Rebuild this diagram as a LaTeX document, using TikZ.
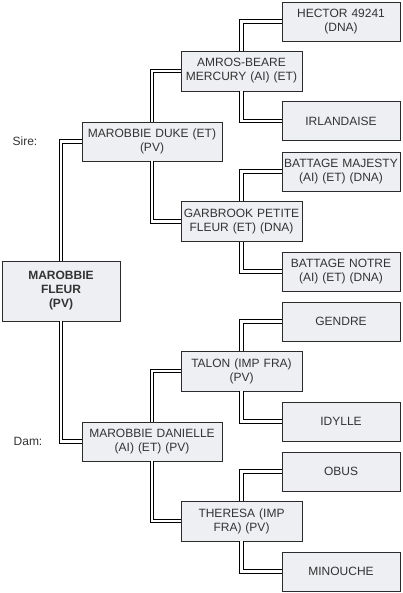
\documentclass[tikz,border=0pt]{standalone}
\usepackage{fontspec}
\setmainfont{Liberation Sans}
\usepackage{xcolor}
\usepackage{tikz}

\definecolor{boxfill}{HTML}{EEEFF3}
\definecolor{boxline}{HTML}{2B2B2B}
\definecolor{boxtext}{HTML}{333333}

\begin{document}
\begin{tikzpicture}[
    x=1pt, y=-1pt,
    rootbox/.style = {
        draw=boxline, fill=boxfill, line width=0.8pt,
        text width=114pt, minimum height=60pt,
        align=center, inner sep=2pt, text=boxtext,
        font=\fontsize{12}{14}\selectfont\bfseries
    },
    sirebox/.style = {
        draw=boxline, fill=boxfill, line width=0.8pt,
        text width=136pt, minimum height=39pt,
        align=center, inner sep=2pt, text=boxtext,
        font=\fontsize{12}{14}\selectfont
    },
    gbox/.style = {
        draw=boxline, fill=boxfill, line width=0.8pt,
        text width=117pt, minimum height=40pt,
        align=center, inner sep=2pt, text=boxtext,
        font=\fontsize{12}{14}\selectfont
    },
    ggbox/.style = {
        draw=boxline, fill=boxfill, line width=0.8pt,
        text width=114pt, minimum height=39pt,
        align=center, inner sep=2pt, text=boxtext,
        font=\fontsize{12}{14}\selectfont
    },
    side/.style = {text=boxtext, font=\fontsize{12}{14}\selectfont},
    link/.style = {draw=black, line width=0.9pt, double=white, double distance=2.4pt}
]
\useasboundingbox (0,0) rectangle (403,593);

%% ---- ROOT ----
\node[rootbox] (root) at (61, 291) {MAROBBIE\\FLEUR\\(PV)};

%% ---- PARENTS ----
\node[side] (sire) at (25, 141) {Sire:};
\node[side] (dam)  at (28, 441) {Dam:};
\node[sirebox] (duke)     at (152, 141.5) {MAROBBIE DUKE (ET)\\(PV)};
\node[sirebox] (danielle) at (152, 441.5) {MAROBBIE DANIELLE\\(AI) (ET) (PV)};

%% ---- GRANDPARENTS ----
\node[gbox] (amros)    at (241.5, 71)    {AMROS-BEARE\\MERCURY (AI) (ET)};
\node[gbox] (garbrook) at (241.5, 221.5) {GARBROOK PETITE\\FLEUR (ET) (DNA)};
\node[gbox] (talon)    at (241.5, 371)   {TALON (IMP FRA)\\(PV)};
\node[gbox] (theresa)  at (241.5, 521)   {THERESA (IMP\\FRA) (PV)};

%% ---- GREAT-GRANDPARENTS ----
\node[ggbox] (hector)     at (341, 21.5)  {HECTOR 49241\\(DNA)};
\node[ggbox] (irlandaise) at (341, 121)   {IRLANDAISE};
\node[ggbox] (majesty)    at (341, 171.5) {BATTAGE MAJESTY\\(AI) (ET) (DNA)};
\node[ggbox] (notre)      at (341, 271.5) {BATTAGE NOTRE\\(AI) (ET) (DNA)};
\node[ggbox] (gendre)     at (341, 321.5) {GENDRE};
\node[ggbox] (idylle)     at (341, 421.5) {IDYLLE};
\node[ggbox] (obus)       at (341, 471.5) {OBUS};
\node[ggbox] (minouche)   at (341, 571.5) {MINOUCHE};

%% ---- LINKS ----
\draw[link] (root.north) |- (duke.west);
\draw[link] (root.south) |- (danielle.west);

\draw[link] (duke.north) |- (amros.west);
\draw[link] (duke.south) |- (garbrook.west);
\draw[link] (danielle.north) |- (talon.west);
\draw[link] (danielle.south) |- (theresa.west);

\draw[link] (amros.north)    |- (hector.west);
\draw[link] (amros.south)    |- (irlandaise.west);
\draw[link] (garbrook.north) |- (majesty.west);
\draw[link] (garbrook.south) |- (notre.west);
\draw[link] (talon.north)    |- (gendre.west);
\draw[link] (talon.south)    |- (idylle.west);
\draw[link] (theresa.north)  |- (obus.west);
\draw[link] (theresa.south)  |- (minouche.west);

\end{tikzpicture}
\end{document}
